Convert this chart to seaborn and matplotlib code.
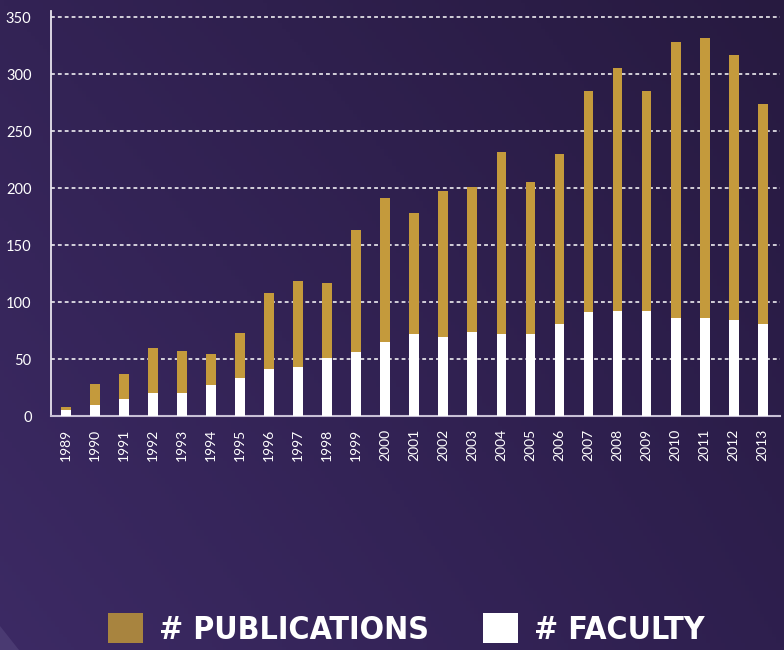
import numpy as np
import pandas as pd
import matplotlib
matplotlib.use("Agg")
import matplotlib.pyplot as plt
from matplotlib.patches import Patch, Polygon
import seaborn as sns

years = [str(y) for y in range(1989, 2014)]
publications = [8, 28, 37, 60, 57, 54, 73, 108, 118, 117, 163, 191,
                178, 197, 201, 232, 205, 230, 285, 305, 285, 328, 332, 317, 274]
faculty = [5, 10, 15, 20, 20, 27, 33, 41, 43, 51, 56, 65,
           72, 69, 74, 72, 72, 81, 91, 92, 92, 86, 86, 84, 81]
y_ticks = [0, 50, 100, 150, 200, 250, 300, 350]

gold = "#c49a3c"
gold_legend = "#a8843f"
text_col = "white"

df = pd.DataFrame({"year": years, "publications": publications, "faculty": faculty})

sns.set_style("dark")
plt.rcParams["font.family"] = ["Lato", "DejaVu Sans"]

fig = plt.figure(figsize=(7.84, 6.5), dpi=100)

# gradient background
bg = fig.add_axes([0, 0, 1, 1], zorder=-10)
bl = np.array([0x3c, 0x2a, 0x64]) / 255
br = np.array([0x2e, 0x1f, 0x4e]) / 255
tl = np.array([0x33, 0x23, 0x55]) / 255
tr = np.array([0x27, 0x1a, 0x40]) / 255
u = np.linspace(0, 1, 200)[None, :, None]
v = np.linspace(0, 1, 200)[:, None, None]
img = (1 - v) * ((1 - u) * tl + u * tr) + v * ((1 - u) * bl + u * br)
bg.imshow(img, extent=[0, 784, 0, 650], aspect="auto")
# little lighter fold in the corner
bg.add_patch(Polygon([[0, 0], [0, 24], [19, 0]], closed=True,
                     facecolor="#4a3a72", edgecolor="none"))
bg.set_xlim(0, 784)
bg.set_ylim(0, 650)
bg.set_axis_off()

ax = fig.add_axes([0.065, 0.36, 0.93, 0.6226])
ax.set_facecolor("none")
sns.barplot(data=df, x="year", y="publications", color=gold, width=0.34,
            saturation=1, linewidth=0, ax=ax, zorder=3)
sns.barplot(data=df, x="year", y="faculty", color="white", width=0.34,
            saturation=1, linewidth=0, ax=ax, zorder=4)

ax.set_xlim(-0.52, 24.6)
ax.set_ylim(0, 355)
ax.set_yticks(y_ticks)
ax.set_xlabel("")
ax.set_ylabel("")
for y in y_ticks[1:]:
    ax.axhline(y, color="white", lw=1.1, ls=(0, (2.5, 2)), zorder=1)
ax.grid(False)

ax.tick_params(axis="y", colors=text_col, labelsize=10.5, length=0, pad=14)
ax.tick_params(axis="x", colors=text_col, labelsize=10, length=0, pad=9,
               labelrotation=90)
for s in ["top", "right"]:
    ax.spines[s].set_visible(False)
ax.spines["left"].set_color("#e8e4ee")
ax.spines["left"].set_linewidth(1.3)
ax.spines["bottom"].set_color("#c8c0d6")
ax.spines["bottom"].set_linewidth(1.5)

handles = [Patch(facecolor=gold_legend, edgecolor="none", label="# PUBLICATIONS"),
           Patch(facecolor="white", edgecolor="none", label="# FACULTY")]
leg = fig.legend(handles=handles, loc="center", bbox_to_anchor=(0.518, 0.032),
                 ncol=2, frameon=False, handlelength=1.1, handleheight=1.1,
                 handletextpad=0.5, columnspacing=1.7,
                 prop={"family": "DejaVu Sans", "stretch": "condensed",
                       "weight": "bold", "size": 23})
for t in leg.get_texts():
    t.set_color("white")

fig.savefig("out.png", dpi=100)
